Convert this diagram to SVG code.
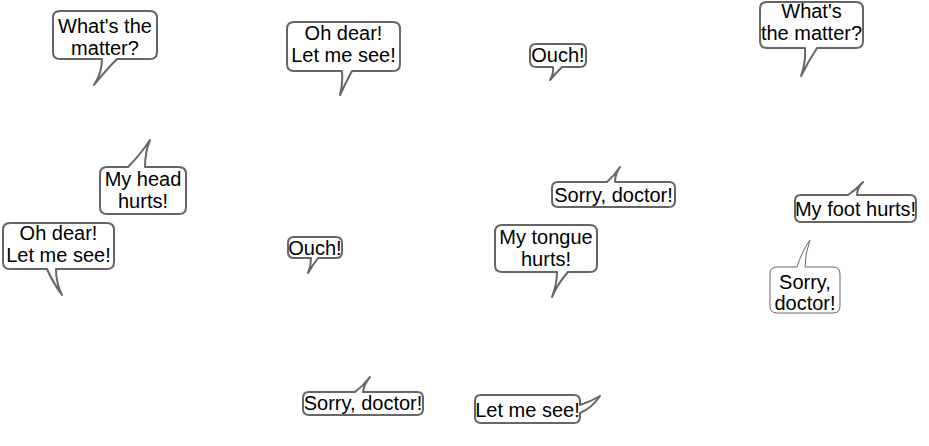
<svg xmlns="http://www.w3.org/2000/svg" width="929" height="446" viewBox="0 0 929 446">
<style>
.b{fill:#fff;stroke:#666;stroke-width:2;stroke-linejoin:round}
.thin{stroke-width:1}
.t{font-family:"Liberation Sans",Arial,sans-serif;font-size:20px;text-anchor:middle;fill:#000}
</style>
<rect width="929" height="446" fill="#fff"/>
<g id="bubble1"><path class="b" d="M60,11 H150 Q157,11 157,18 V52 Q157,59 150,59 H117 Q106,70 94,85 Q102,73 102,59 H60 Q53,59 53,52 V18 Q53,11 60,11 Z"/><text class="t" x="105" y="33">What's the</text><text class="t" x="105" y="55">matter?</text></g>
<g id="bubble2"><path class="b" d="M294,22 H393 Q400,22 400,29 V64 Q400,71 393,71 H352 Q346,82 340,95 Q343,83 342,71 H294 Q287,71 287,64 V29 Q287,22 294,22 Z"/><text class="t" x="343.5" y="40">Oh dear!</text><text class="t" x="343.5" y="62">Let me see!</text></g>
<g id="bubble3"><path class="b" d="M536,44 H580 Q586,44 586,50 V61 Q586,67 580,67 H562 Q556,73 550,80 Q554,73 553,67 H536 Q530,67 530,61 V50 Q530,44 536,44 Z"/><text class="t" x="558" y="62">Ouch!</text></g>
<g id="bubble4"><path class="b" d="M767,2 H856 Q863,2 863,9 V41 Q863,48 856,48 H817 Q808,62 801,76 Q806,62 805,48 H767 Q760,48 760,41 V9 Q760,2 767,2 Z"/><text class="t" x="811.5" y="18">What's</text><text class="t" x="811.5" y="40">the matter?</text></g>
<g id="bubble5"><path class="b" d="M107,167 H128 Q140,155 150,140 Q145,152 145,167 H179 Q186,167 186,174 V207 Q186,214 179,214 H107 Q100,214 100,207 V174 Q100,167 107,167 Z"/><text class="t" x="143" y="186">My head</text><text class="t" x="143" y="208">hurts!</text></g>
<g id="bubble6"><path class="b" d="M10,223 H107 Q114,223 114,230 V262 Q114,269 107,269 H56 Q56,283 62,295 Q52,281 47,269 H10 Q3,269 3,262 V230 Q3,223 10,223 Z"/><text class="t" x="58.5" y="240">Oh dear!</text><text class="t" x="58.5" y="262">Let me see!</text></g>
<g id="bubble7"><path class="b" d="M294,237 H336 Q342,237 342,243 V252 Q342,258 336,258 H318 Q312,266 308,273 Q311,266 311,258 H294 Q288,258 288,252 V243 Q288,237 294,237 Z"/><text class="t" x="315" y="255">Ouch!</text></g>
<g id="bubble8"><path class="b" d="M558,182 H607 Q614,176 620,167 Q615,174 615,182 H669 Q675,182 675,188 V201 Q675,207 669,207 H558 Q552,207 552,201 V188 Q552,182 558,182 Z"/><text class="t" x="613.5" y="201.5">Sorry, doctor!</text></g>
<g id="bubble9"><path class="b" d="M502,225 H590 Q597,225 597,232 V265 Q597,272 590,272 H568 Q558,283 552,297 Q557,284 557,272 H502 Q495,272 495,265 V232 Q495,225 502,225 Z"/><text class="t" x="546" y="244">My tongue</text><text class="t" x="546" y="266">hurts!</text></g>
<g id="bubble10"><path class="b" d="M801,195 H848 Q856,190 863,182 Q857,188 857,195 H910 Q916,195 916,201 V216 Q916,222 910,222 H801 Q795,222 795,216 V201 Q795,195 801,195 Z"/><text class="t" x="855.5" y="215.5">My foot hurts!</text></g>
<g id="bubble11"><path class="b thin" d="M777,267 H797 Q802,251 810,240 Q805,253 805,267 H833 Q840,267 840,274 V306 Q840,313 833,313 H777 Q770,313 770,306 V274 Q770,267 777,267 Z"/><text class="t" x="805" y="289">Sorry,</text><text class="t" x="805" y="310">doctor!</text></g>
<g id="bubble12"><path class="b" d="M309,392 H355 Q363,386 370,377 Q364,384 363,392 H417 Q423,392 423,398 V409 Q423,415 417,415 H309 Q303,415 303,409 V398 Q303,392 309,392 Z"/><text class="t" x="363" y="410">Sorry, doctor!</text></g>
<g id="bubble13"><path class="b" d="M481,395 H574 Q580,395 580,401 V405 Q590,402 600,396 Q592,408 580,413 V417 Q580,423 574,423 H481 Q475,423 475,417 V401 Q475,395 481,395 Z"/><text class="t" x="527.5" y="417">Let me see!</text></g>
<g id="connectors"></g>
</svg>
